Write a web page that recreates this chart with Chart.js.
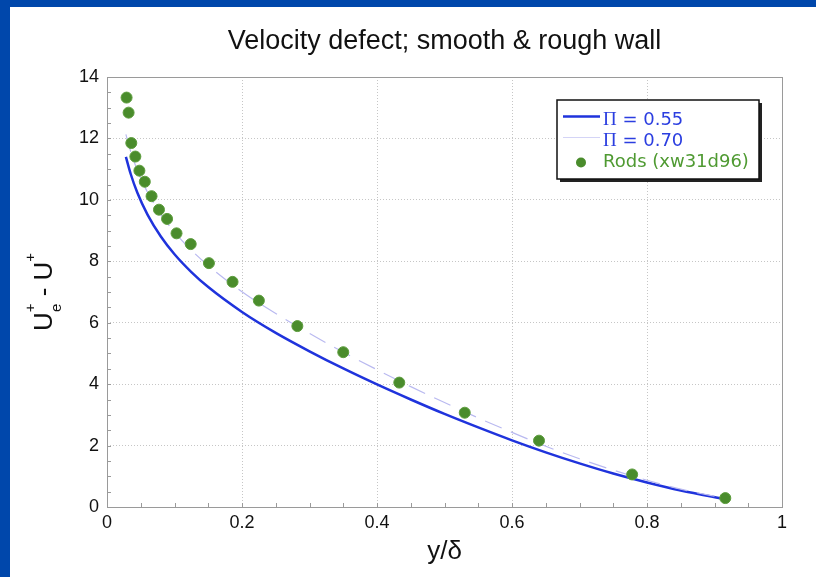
<!DOCTYPE html>
<html>
<head>
<meta charset="utf-8">
<script src="https://cdn.jsdelivr.net/npm/chart.js@4"></script>
<style>
  html, body { margin: 0; padding: 0; background: #0047ab; overflow: hidden; }
  #panel { position: absolute; left: 10px; top: 7px; width: 806px; height: 570px; background: #fff; }
</style>
</head>
<body>
<div id="panel"><canvas id="defectChart" width="806" height="570"></canvas></div>

<script>
    // y/delta positions where the two wake-law curves were read
    const yOverDelta = [0.028, 0.035, 0.045, 0.06, 0.08, 0.10, 0.125, 0.15, 0.2, 0.25, 0.3, 0.35,
                        0.4, 0.45, 0.5, 0.55, 0.6, 0.65, 0.7, 0.75, 0.8, 0.85, 0.918];
    // Pi = 0.55 (solid blue)
    const defectPi055 = [11.40, 10.85, 10.23, 9.52, 8.80, 8.23, 7.65, 7.16, 6.35, 5.67, 5.07, 4.51,
                         3.99, 3.50, 3.03, 2.59, 2.17, 1.78, 1.42, 1.09, 0.80, 0.54, 0.25];
    // Pi = 0.70 (dashed lavender)
    const defectPi070 = [12.13, 11.58, 10.96, 10.25, 9.52, 8.95, 8.36, 7.86, 7.01, 6.30, 5.65, 5.04,
                         4.47, 3.92, 3.40, 2.90, 2.43, 1.98, 1.57, 1.20, 0.87, 0.58, 0.27];

    // Rods (xw31d96) measurements
    const rodsY = [0.029, 0.032, 0.036, 0.042, 0.048, 0.056, 0.066, 0.077, 0.089, 0.103, 0.124,
                   0.151, 0.186, 0.225, 0.282, 0.350, 0.433, 0.530, 0.640, 0.778, 0.916];
    const rodsDefect = [13.33, 12.84, 11.85, 11.41, 10.95, 10.59, 10.12, 9.68, 9.38, 8.91, 8.56,
                        7.94, 7.33, 6.72, 5.89, 5.04, 4.05, 3.07, 2.16, 1.06, 0.29];

    const xTicks = [0, 0.2, 0.4, 0.6, 0.8, 1];
    const yTicks = [0, 2, 4, 6, 8, 10, 12, 14];

    const toPoints = (xs, ys) => xs.map((x, i) => ({ x: x, y: ys[i] }));

    Chart.defaults.font.family = "'Liberation Sans', Arial, sans-serif";
    Chart.defaults.color = '#111';

    // box around the plot + small inward minor ticks
    const marcoPlugin = {
        id: 'marco',
        beforeDatasetsDraw(chart) {
            const { ctx, chartArea: a, scales } = chart;
            ctx.save();
            ctx.strokeStyle = '#9a9a9a';
            ctx.lineWidth = 1;
            ctx.beginPath();
            // minor ticks on x (every 0.05) and y (every 0.5)
            for (let k = 0; k <= 20; k++) {
                const px = Math.round(scales.x.getPixelForValue(k * 0.05)) + 0.5;
                ctx.moveTo(px, a.bottom);
                ctx.lineTo(px, a.bottom - 4);
            }
            for (let k = 0; k <= 28; k++) {
                const py = Math.round(scales.y.getPixelForValue(k * 0.5)) + 0.5;
                ctx.moveTo(a.left, py);
                ctx.lineTo(a.left + 4, py);
            }
            ctx.stroke();
            ctx.strokeRect(Math.round(a.left) + 0.5, Math.round(a.top) + 0.5,
                           Math.round(a.right - a.left), Math.round(a.bottom - a.top));
            ctx.restore();
        }
    };

    // y title with super/subscripts: U+e - U+
    const tituloYPlugin = {
        id: 'tituloY',
        afterDraw(chart) {
            const { ctx, chartArea: a } = chart;
            const big = "26px 'Liberation Sans', Arial, sans-serif";
            const small = "15px 'Liberation Sans', Arial, sans-serif";
            ctx.save();
            ctx.fillStyle = '#111';
            ctx.textBaseline = 'alphabetic';
            ctx.textAlign = 'left';
            ctx.font = big;
            const wU = ctx.measureText('U').width;
            const wMid = ctx.measureText(' - U').width;
            ctx.font = small;
            const wPlus = ctx.measureText('+').width;
            const wE = ctx.measureText('e').width;
            const wStack = Math.max(wPlus, wE);
            const total = wU + wStack + wMid + wPlus;
            ctx.translate(42, (a.top + a.bottom) / 2);
            ctx.rotate(-Math.PI / 2);
            let x = -total / 2;
            ctx.font = big;
            ctx.fillText('U', x, 0);
            x += wU;
            ctx.font = small;
            ctx.fillText('+', x, -17);
            ctx.fillText('e', x + (wStack - wE) / 2, 9);
            x += wStack;
            ctx.font = big;
            ctx.fillText(' - U', x, 0);
            x += wMid;
            ctx.font = small;
            ctx.fillText('+', x, -17);
            ctx.restore();
        }
    };

    // legend box with drop shadow, top right of the plot
    const leyendaPlugin = {
        id: 'leyenda',
        afterDraw(chart) {
            const { ctx, chartArea: a } = chart;
            const bx = a.right - 225, by = a.top + 23, bw = 202, bh = 79;
            ctx.save();
            ctx.fillStyle = '#222';
            ctx.fillRect(bx + 3, by + 3, bw, bh);
            ctx.fillStyle = '#fff';
            ctx.fillRect(bx, by, bw, bh);
            ctx.strokeStyle = '#111';
            ctx.lineWidth = 1.5;
            ctx.strokeRect(bx, by, bw, bh);

            const sans = "18px 'DejaVu Sans', sans-serif";
            const serif = "19px 'Liberation Serif', 'DejaVu Serif', serif";
            chart.data.datasets.forEach((ds, i) => {
                const cy = by + 20.5 + i * 21;
                if (ds.showLine) {
                    ctx.save();
                    ctx.strokeStyle = ds.legendLine || ds.borderColor;
                    ctx.lineWidth = ds.borderWidth;
                    ctx.beginPath();
                    ctx.moveTo(bx + 6, cy - 4);
                    ctx.lineTo(bx + 43, cy - 4);
                    ctx.stroke();
                    ctx.restore();
                } else {
                    ctx.beginPath();
                    ctx.fillStyle = ds.backgroundColor;
                    ctx.arc(bx + 24, cy, 5, 0, Math.PI * 2);
                    ctx.fill();
                }
                ctx.fillStyle = ds.textColor;
                ctx.textBaseline = 'middle';
                let tx = bx + 46;
                let txt = ds.label;
                if (txt.startsWith('Π')) {
                    ctx.font = serif;
                    ctx.fillText('Π', tx, cy);
                    tx += ctx.measureText('Π').width;
                    txt = txt.slice(1);
                }
                ctx.font = sans;
                ctx.fillText(txt, tx, cy);
            });
            ctx.restore();
        }
    };

    const ctx = document.getElementById('defectChart').getContext('2d');
    const grafico = new Chart(ctx, {
        type: 'scatter',
        data: {
            datasets: [
                {
                    label: 'Π = 0.55',
                    data: toPoints(yOverDelta, defectPi055),
                    showLine: true,
                    borderColor: '#1f33dc',
                    textColor: '#2b3ee0',
                    borderWidth: 2.5,
                    pointRadius: 0,
                    cubicInterpolationMode: 'monotone',
                    order: 2
                },
                {
                    label: 'Π = 0.70',
                    data: toPoints(yOverDelta, defectPi070),
                    showLine: true,
                    borderColor: '#b9b9f0',
                    legendLine: '#d4d4f6',
                    textColor: '#2b3ee0',
                    borderWidth: 1.2,
                    borderDash: [18, 10],
                    pointRadius: 0,
                    cubicInterpolationMode: 'monotone',
                    order: 1
                },
                {
                    label: 'Rods (xw31d96)',
                    data: toPoints(rodsY, rodsDefect),
                    showLine: false,
                    backgroundColor: '#4a8c2c',
                    borderColor: '#5c9c3c',
                    textColor: '#4f9a32',
                    borderWidth: 1,
                    pointRadius: 5.5,
                    order: 0
                }
            ]
        },
        options: {
            responsive: false,
            animation: false,
            layout: { padding: { left: 0, right: 34, top: 0, bottom: 0 } },
            plugins: {
                legend: { display: false },
                tooltip: { enabled: false },
                title: {
                    display: true,
                    fullSize: false,
                    text: 'Velocity defect; smooth & rough wall',
                    font: { size: 27, weight: 'normal' },
                    color: '#111',
                    padding: { top: 18, bottom: 19.6 }
                }
            },
            scales: {
                x: {
                    type: 'linear',
                    min: 0,
                    max: 1,
                    afterBuildTicks: (s) => { s.ticks = xTicks.map(v => ({ value: v })); },
                    afterFit: (s) => { s.height = 70; },
                    ticks: {
                        font: { size: 18 }, color: '#111', padding: 5, maxRotation: 0,
                        callback: (v) => String(Math.round(v * 10) / 10)
                    },
                    grid: { color: '#c6c6c6', drawTicks: false },
                    border: { display: false, dash: [1, 2] },
                    title: {
                        display: true,
                        text: 'y/δ',
                        font: { size: 26 },
                        color: '#111',
                        padding: { top: 0, bottom: 10 }
                    }
                },
                y: {
                    type: 'linear',
                    min: 0,
                    max: 14,
                    afterBuildTicks: (s) => { s.ticks = yTicks.map(v => ({ value: v })); },
                    afterFit: (s) => { s.width = 97; },
                    ticks: { font: { size: 18 }, color: '#111', padding: 8 },
                    grid: { color: '#c6c6c6', drawTicks: false },
                    border: { display: false, dash: [1, 2] }
                }
            }
        },
        plugins: [marcoPlugin, tituloYPlugin, leyendaPlugin]
    });
</script>
</body>
</html>
